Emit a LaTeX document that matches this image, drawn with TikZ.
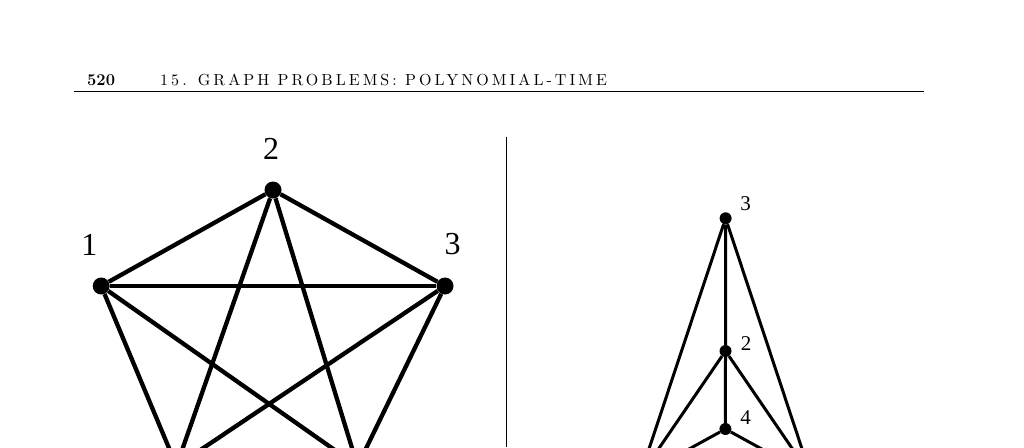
\documentclass[tikz,border=0pt]{standalone}
\usepackage{fontspec}
\newfontfamily\timesfont{Liberation Serif}
\newfontfamily\headfont{lmroman10-regular.otf}[LetterSpace=19]
\begin{document}
\begin{tikzpicture}[x=1pt,y=-1pt,
  vtx/.style={circle,fill=black,inner sep=0pt,minimum size=#1},
  bigedge/.style={line width=4.3pt},
  smalledge/.style={line width=3pt},
  biglabel/.style={font=\fontsize{32}{32}\timesfont},
  smalllabel/.style={font=\fontsize{21}{21}\timesfont}]
\useasboundingbox (0,0) rectangle (1024,447);
\clip (0,0) rectangle (1024,447);
% running head
\node[anchor=base west,inner sep=0pt,font=\fontsize{16.5}{16.5}\selectfont\bfseries] (page) at (87,85) {520};
\node[anchor=base west,inner sep=0pt,font=\fontsize{16}{16}\headfont] (head) at (160,85)
  {15. GRAPH PROBLEMS: POLYNOMIAL-TIME};
\draw[line width=1.3pt] (74,91.7) -- (924.3,91.7);
% left graph
\node[vtx=17pt] (l1) at (101.2,286) {};
\node[vtx=17pt] (l2) at (273,190) {};
\node[vtx=17pt] (l3) at (445,286) {};
\coordinate (l4) at (357.5,466);
\coordinate (l5) at (176.5,466);
\foreach \a/\b in {l1/l2,l1/l3,l1/l4,l1/l5,l2/l3,l2/l4,l2/l5,l3/l4,l3/l5}
  \draw[bigedge] (\a) -- (\b);
\node[biglabel] (t1) at (89.3,245) {1};
\node[biglabel] (t2) at (271,149.3) {2};
\node[biglabel] (t3) at (452.7,244) {3};
% divider
\draw[line width=1pt] (506.7,136.7) -- (506.7,447);
% right graph
\node[vtx=12pt] (r3) at (725.6,218.3) {};
\node[vtx=12pt] (r2) at (725.5,351) {};
\node[vtx=12pt] (r4) at (725.4,429) {};
\coordinate (r1) at (640,476);
\coordinate (r5) at (811,476);
\foreach \a/\b in {r3/r2,r2/r4,r3/r1,r3/r5,r2/r1,r2/r5,r4/r1,r4/r5}
  \draw[smalledge] (\a) -- (\b);
\node[smalllabel] (s3) at (745.7,203.3) {3};
\node[smalllabel] (s2) at (746,344) {2};
\node[smalllabel] (s4) at (745.7,417.7) {4};
\end{tikzpicture}
\end{document}
